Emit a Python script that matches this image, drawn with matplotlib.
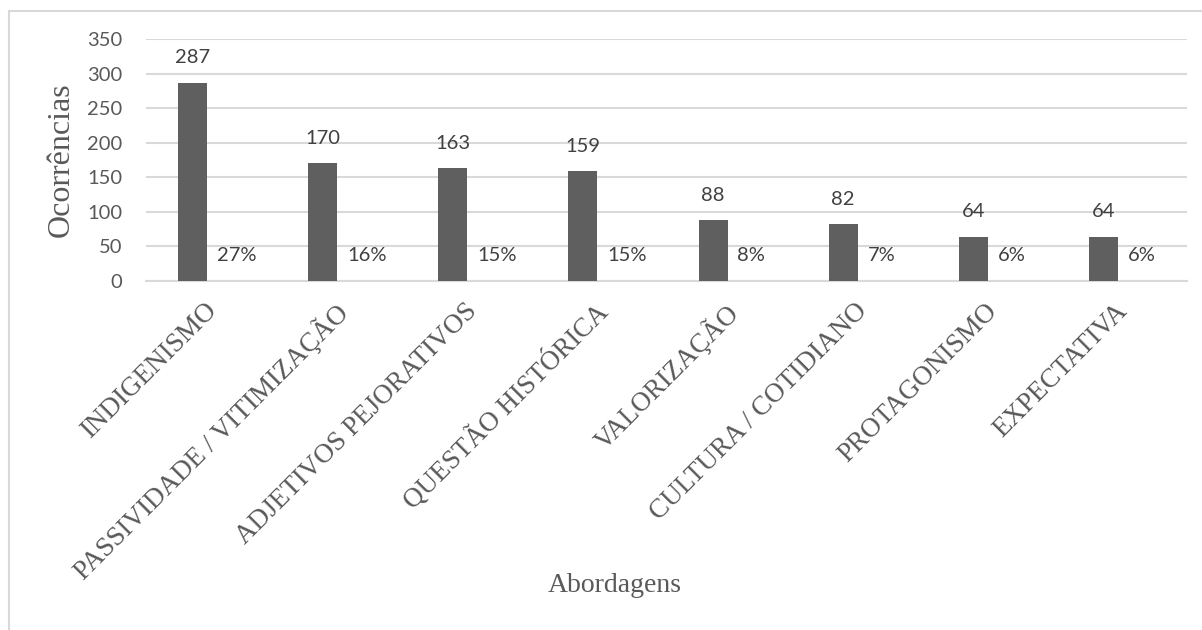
import matplotlib.pyplot as plt
import matplotlib.patches as patches
from matplotlib.transforms import ScaledTranslation

# ---------------------------------------------------
# DATA
# ---------------------------------------------------

categorias = [
    "INDIGENISMO",
    "PASSIVIDADE / VITIMIZAÇÃO",
    "ADJETIVOS PEJORATIVOS",
    "QUESTÃO HISTÓRICA",
    "VALORIZAÇÃO",
    "CULTURA / COTIDIANO",
    "PROTAGONISMO",
    "EXPECTATIVA",
]

ocorrencias = [287, 170, 163, 159, 88, 82, 64, 64]

percentuais = [27, 16, 15, 15, 8, 7, 6, 6]

# ---------------------------------------------------
# FIGURE
# ---------------------------------------------------

W, H = 1202, 630
fig = plt.figure(figsize=(W / 100, H / 100), dpi=100)
fig.patch.set_facecolor("white")

# outer chart frame
fig.patches.append(
    patches.Rectangle(
        (9 / W, -0.1), 1.2, 1 - 11 / H + 0.1,
        transform=fig.transFigure,
        fill=False, edgecolor="#d9d9d9", linewidth=1.5,
    )
)

ax = fig.add_axes([146 / W, 1 - 281 / H, (1187 - 146) / W, (281 - 39) / H])

bar_color = "#5f5f5f"
grid_color = "#d9d9d9"
label_color = "#595959"
value_color = "#404040"

x = list(range(len(categorias)))
offset = -0.142
width = 0.223

xs = [i + offset for i in x]
ax.bar(xs, ocorrencias, width=width, color=bar_color, zorder=3)

# value labels above bars
for xi, v in zip(xs, ocorrencias):
    ax.annotate(
        str(v), (xi, v),
        xytext=(0, 18), textcoords="offset points",
        ha="center", va="center",
        fontsize=14.5, family="Lato", color=value_color,
    )

# percentage labels beside bars
for xi, p in zip(xs, percentuais):
    ax.text(
        xi + width / 2 + 0.075, 37, f"{p}%",
        ha="left", va="center",
        fontsize=14.5, family="Lato", color=value_color,
    )

# ---------------------------------------------------
# AXES
# ---------------------------------------------------

ax.set_xlim(-0.5, len(categorias) - 0.5)
ax.set_ylim(0, 350)
ax.set_yticks(range(0, 351, 50))

ax.yaxis.grid(True, color=grid_color, linewidth=1.5, zorder=0)
ax.set_axisbelow(True)

for side in ["top", "right", "left"]:
    ax.spines[side].set_visible(False)
ax.spines["bottom"].set_color(grid_color)
ax.spines["bottom"].set_linewidth(1.5)

ax.tick_params(axis="both", length=0)
ax.tick_params(axis="y", pad=17, labelsize=14.5, labelcolor=label_color)
for t in ax.get_yticklabels():
    t.set_family("Lato")

ax.set_xticks(x)
ax.set_xticklabels(
    categorias,
    rotation=45, ha="right", va="top", rotation_mode="anchor",
    fontsize=19.5, family="Liberation Serif", color=label_color,
)
shift = ScaledTranslation(-5 / 72, -9 / 72, fig.dpi_scale_trans)
for t in ax.get_xticklabels():
    t.set_transform(t.get_transform() + shift)

fig.text(
    61 / W, 1 - 160 / H, "Ocorrências",
    rotation=90, ha="center", va="center",
    fontsize=23, family="Liberation Serif", color=label_color,
)

fig.text(
    615 / W, 1 - 585 / H, "Abordagens",
    ha="center", va="center",
    fontsize=20, family="Liberation Serif", color=label_color,
)

fig.savefig("out.png", dpi=100)
